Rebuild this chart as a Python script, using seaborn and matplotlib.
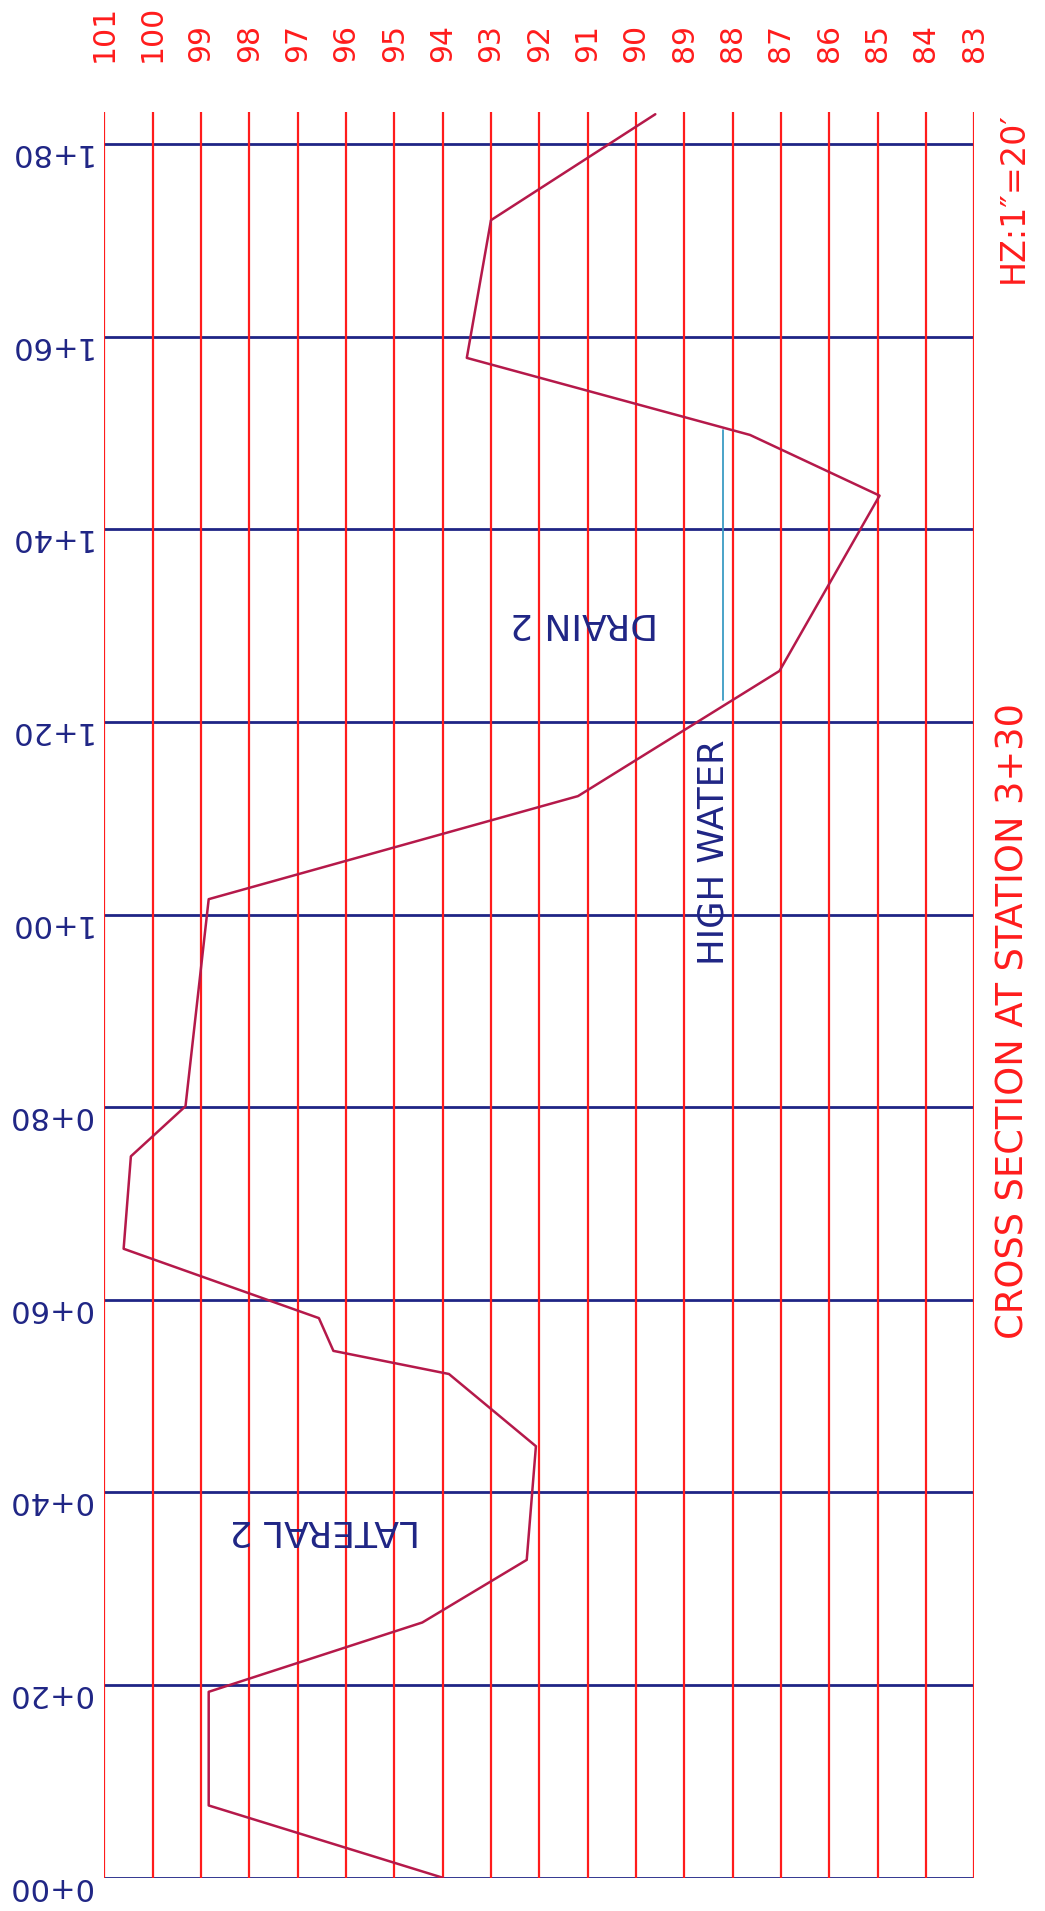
#%% libs
import matplotlib
matplotlib.use("Agg")
import matplotlib.pyplot as plt
import seaborn as sns
import pandas as pd
import numpy as np

#%% data (elevation in ft, station in ft)
elevations = list(range(83, 102))
stations = list(range(0, 181, 20))
station_labels = ["0+00", "0+20", "0+40", "0+60", "0+80",
                  "1+00", "1+20", "1+40", "1+60", "1+80"]

profile_station = [0, 7.5, 19.3, 26.5, 33.0, 44.8, 52.3, 54.7, 58.1, 65.3,
                   74.9, 80.1, 101.6, 112.3, 125.3, 143.5, 149.8, 157.8, 172.1, 183.1]
profile_elev = [94.0, 98.84, 98.84, 94.42, 92.26, 92.07, 93.87, 96.26, 96.56, 100.6,
                100.45, 99.32, 98.84, 91.2, 87.03, 84.96, 87.64, 93.5, 93.0, 89.6]

high_water_elev = 88.19
high_water_station = [122.3, 150.3]

grid_top = 183.3

RED = "#ff1c1c"
NAVY = "#1f2585"
PROFILE = "#b5194a"
WATER = "#3b9cc4"

#%% figure
sns.set_theme(style="white")
plt.rcParams["font.family"] = ["DejaVu Sans"]

W, H = 1045, 1911
fig = plt.figure(figsize=(W / 100, H / 100), dpi=100)
ax = fig.add_axes([104.3 / W, (H - 1877.7) / H, (974.3 - 104.3) / W, (1877.7 - 112.3) / H])
ax.set_xlim(101, 83)
ax.set_ylim(0, grid_top)
ax.set_axis_off()

# grid: blue station lines, red elevation lines
for s in stations:
    ax.axhline(s, color=NAVY, lw=2.0, zorder=1)
for e in elevations:
    ax.axvline(e, color=RED, lw=1.6, zorder=2)

# ground profile
prof = pd.DataFrame({"elev": profile_elev, "station": profile_station})
sns.lineplot(data=prof, x="elev", y="station", sort=False, estimator=None,
             color=PROFILE, lw=1.8, ax=ax, zorder=3)

# high water line
hw = pd.DataFrame({"elev": [high_water_elev] * 2, "station": high_water_station})
sns.lineplot(data=hw, x="elev", y="station", sort=False, estimator=None,
             color=WATER, lw=1.3, ax=ax, zorder=3)
ax.set_xlabel("")
ax.set_ylabel("")

#%% labels
for e in elevations:
    ax.text(e, 188.5, str(e), rotation=90, rotation_mode="anchor", ha="left", va="center",
            color=RED, fontsize=21.5, clip_on=False)

for s, lab in zip(stations, station_labels):
    ax.text(101.28, s, lab, rotation=180, rotation_mode="anchor", ha="left", va="baseline",
            color=NAVY, fontsize=22, clip_on=False)

ax.text(high_water_elev, 94.8, "HIGH WATER", rotation=90, rotation_mode="anchor",
        ha="left", va="baseline", color=NAVY, fontsize=25.5)
ax.text(91.08, 130.3, "DRAIN 2", rotation=180, rotation_mode="anchor",
        ha="center", va="center", color=NAVY, fontsize=26)
ax.text(96.43, 36.1, "LATERAL 2", rotation=180, rotation_mode="anchor",
        ha="center", va="center", color=NAVY, fontsize=26)

ax.text(82.2, 89.0, "CROSS SECTION AT STATION 3+30", rotation=90, rotation_mode="anchor",
        ha="center", va="center", color=RED, fontsize=26.5, clip_on=False)
ax.text(82.2, 174.5, "HZ:1\u2033=20\u2032", rotation=90, rotation_mode="anchor",
        ha="center", va="center", color=RED, fontsize=24, clip_on=False)

fig.savefig("out.png", dpi=100, facecolor="white")
